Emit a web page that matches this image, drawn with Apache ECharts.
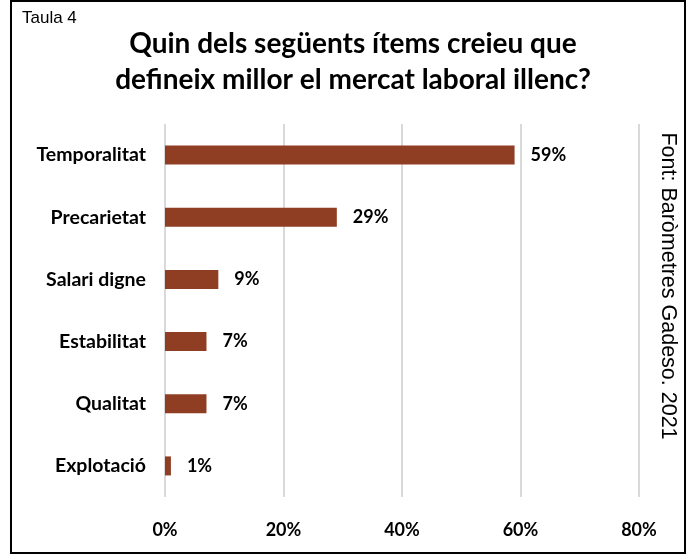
<!DOCTYPE html>
<html style="height: 100%">
   <head>
       <meta charset="utf-8">
   </head>
   <body style="height: 100%; margin: 0; background: #fff">
       <div id="container" style="width: 695px; height: 555px"></div>
       <script src="https://cdn.jsdelivr.net/npm/echarts@6/dist/echarts.min.js"></script>
       <script type="text/javascript">
var items = ['Temporalitat', 'Precarietat', 'Salari digne', 'Estabilitat', 'Qualitat', 'Explotació'];
var percents = [59, 29, 9, 7, 7, 1];
var ticks = [0, 20, 40, 60, 80];

var dom = document.getElementById("container");
var myChart = echarts.init(dom);
var option = {
    backgroundColor: '#fff',
    animation: false,
    title: {
        text: 'Quin dels següents ítems creieu que\ndefineix millor el mercat laboral illenc?',
        left: 348,
        textAlign: 'center',
        top: 21,
        textStyle: {
            fontFamily: 'Lato',
            fontWeight: 'bold',
            fontSize: 28,
            lineHeight: 36,
            color: '#000'
        }
    },
    graphic: [
        {
            type: 'rect',
            shape: { x: 11, y: 1, width: 674, height: 552 },
            style: { fill: 'none', stroke: '#000', lineWidth: 2 }
        },
        {
            type: 'text',
            left: 22,
            top: 10,
            style: { text: 'Taula 4', fontFamily: 'Liberation Sans', fontSize: 17, fill: '#000' }
        },
        {
            type: 'text',
            x: 668,
            y: 286,
            rotation: -Math.PI / 2,
            style: {
                text: 'Font: Baròmetres Gadeso. 2021',
                fontFamily: 'Liberation Sans',
                fontSize: 21.5,
                fill: '#000',
                align: 'center',
                verticalAlign: 'middle'
            }
        }
    ],
    grid: {
        left: 165,
        right: 695 - 639,
        top: 124,
        bottom: 555 - 497,
        containLabel: false
    },
    xAxis: {
        type: 'value',
        min: ticks[0],
        max: ticks[ticks.length - 1],
        interval: 20,
        axisLine: { show: false },
        axisTick: { show: false },
        splitLine: { lineStyle: { color: '#d9d9d9', width: 2 } },
        axisLabel: {
            margin: 24,
            formatter: '{value}%',
            fontFamily: 'Lato',
            fontWeight: 'bold',
            fontSize: 18,
            color: '#000'
        }
    },
    yAxis: {
        type: 'category',
        data: items,
        inverse: true,
        axisLine: { show: false },
        axisTick: { show: false },
        axisLabel: {
            margin: 19,
            fontFamily: 'Lato',
            fontWeight: 'bold',
            fontSize: 19.5,
            color: '#000'
        }
    },
    series: [{
        type: 'bar',
        data: percents,
        barWidth: 19,
        itemStyle: { color: '#8f3e23' },
        label: {
            show: true,
            position: 'right',
            distance: 16,
            formatter: '{c}%',
            fontFamily: 'Lato',
            fontWeight: 'bold',
            fontSize: 18,
            color: '#000'
        }
    }]
};
myChart.setOption(option);
       </script>
   </body>
</html>
